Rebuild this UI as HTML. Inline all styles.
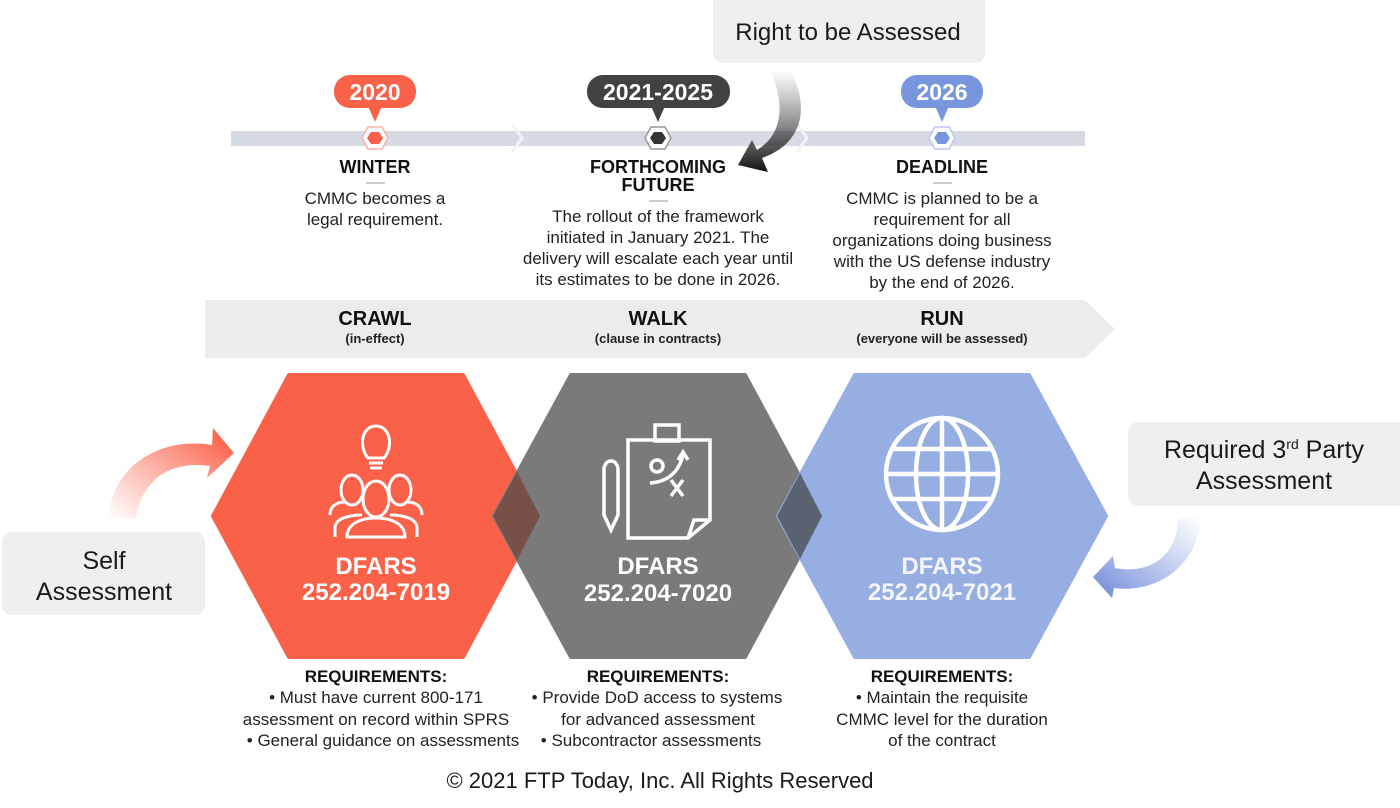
<!DOCTYPE html>
<html><head><meta charset="utf-8"><style>
html,body{margin:0;padding:0;background:#fff;}
svg{display:block;font-family:"Liberation Sans",sans-serif;}
.b{font-weight:bold;fill:#111;}
.t{fill:#222;font-size:17px;}
</style></head><body>
<svg width="1400" height="808" viewBox="0 0 1400 808" xmlns="http://www.w3.org/2000/svg">
<defs>
<linearGradient id="gr" x1="0" y1="1" x2="1" y2="0"><stop offset="0" stop-color="#fa6149" stop-opacity="0"/><stop offset="1" stop-color="#fa5238"/></linearGradient>
<linearGradient id="gb" x1="1" y1="0" x2="0" y2="1"><stop offset="0" stop-color="#7f98dd" stop-opacity="0"/><stop offset="1" stop-color="#6d87d8"/></linearGradient>
<linearGradient id="gk" x1="0" y1="0" x2="0" y2="1"><stop offset="0" stop-color="#444" stop-opacity="0"/><stop offset="1" stop-color="#111"/></linearGradient>
</defs>

<rect x="713" y="-10" width="272" height="73" rx="10" fill="#eef0f0"/>
<text x="848" y="40" text-anchor="middle" font-size="24" fill="#1a1a1a">Right to be Assessed</text>

<rect x="231" y="131" width="854" height="15" fill="#d6dbe3"/>
<path d="M512 124 L522 138 L512 152" fill="none" stroke="#f2f3f6" stroke-width="3"/>
<path d="M797 124 L807 138 L797 152" fill="none" stroke="#f2f3f6" stroke-width="3"/>

<path d="M790 70 C812 110 800 145 762 158 L768 172 L738 165 L752 140 L757 150 C782 135 786 105 770 70 Z" fill="url(#gk)"/>

<rect x="334" y="75" width="82" height="33" rx="16" fill="#fa6149"/>
<path d="M368 106 L375 122 L382 106 Z" fill="#fa6149"/>
<text x="375" y="100" text-anchor="middle" font-size="23" class="b" style="fill:#fff">2020</text>
<rect x="587" y="75" width="143" height="33" rx="16" fill="#424242"/>
<path d="M651 106 L658 122 L665 106 Z" fill="#424242"/>
<text x="658" y="100" text-anchor="middle" font-size="23" class="b" style="fill:#fff">2021-2025</text>
<rect x="901" y="75" width="82" height="33" rx="16" fill="#7896de"/>
<path d="M935 106 L942 122 L949 106 Z" fill="#7896de"/>
<text x="942" y="100" text-anchor="middle" font-size="23" class="b" style="fill:#fff">2026</text>

<polygon points="368,127 382,127 388,138 382,149 368,149 362,138" fill="#fff" stroke="#f7b2a6" stroke-width="1.5"/>
<polygon points="371,132 379,132 383,138 379,144 371,144 367,138" fill="#fa6149"/>
<polygon points="651,127 665,127 671,138 665,149 651,149 645,138" fill="#fff" stroke="#999" stroke-width="1.5"/>
<polygon points="654,132 662,132 666,138 662,144 654,144 650,138" fill="#333"/>
<polygon points="935,127 949,127 955,138 949,149 935,149 929,138" fill="#fff" stroke="#b9c7ee" stroke-width="1.5"/>
<polygon points="938,132 946,132 950,138 946,144 938,144 934,138" fill="#7896de"/>

<text x="375" y="173" text-anchor="middle" font-size="18" class="b">WINTER</text>
<rect x="366" y="182" width="19" height="2" fill="#ccc"/>
<text x="375" y="204" text-anchor="middle" class="t">CMMC becomes a</text>
<text x="375" y="225" text-anchor="middle" class="t">legal requirement.</text>

<text x="658" y="173" text-anchor="middle" font-size="18" class="b">FORTHCOMING</text>
<text x="658" y="191" text-anchor="middle" font-size="18" class="b">FUTURE</text>
<rect x="649" y="200" width="19" height="2" fill="#ccc"/>
<text x="658" y="222" text-anchor="middle" class="t">The rollout of the framework</text>
<text x="658" y="243" text-anchor="middle" class="t">initiated in January 2021. The</text>
<text x="658" y="264" text-anchor="middle" class="t">delivery will escalate each year until</text>
<text x="658" y="285" text-anchor="middle" class="t">its estimates to be done in 2026.</text>

<text x="942" y="173" text-anchor="middle" font-size="18" class="b">DEADLINE</text>
<rect x="933" y="182" width="19" height="2" fill="#ccc"/>
<text x="942" y="204" text-anchor="middle" class="t">CMMC is planned to be a</text>
<text x="942" y="225" text-anchor="middle" class="t">requirement for all</text>
<text x="942" y="246" text-anchor="middle" class="t">organizations doing business</text>
<text x="942" y="267" text-anchor="middle" class="t">with the US defense industry</text>
<text x="942" y="288" text-anchor="middle" class="t">by the end of 2026.</text>

<polygon points="205,300 1085,300 1115,329 1085,358 205,358" fill="#ececec"/>
<text x="375" y="325" text-anchor="middle" font-size="20" class="b">CRAWL</text>
<text x="375" y="343" text-anchor="middle" font-size="13" class="b" style="fill:#222">(in-effect)</text>
<text x="658" y="325" text-anchor="middle" font-size="20" class="b">WALK</text>
<text x="658" y="343" text-anchor="middle" font-size="13" class="b" style="fill:#222">(clause in contracts)</text>
<text x="942" y="325" text-anchor="middle" font-size="20" class="b">RUN</text>
<text x="942" y="343" text-anchor="middle" font-size="13" class="b" style="fill:#222">(everyone will be assessed)</text>

<polygon points="289,375 463,375 539,516 463,657 289,657 213,516" fill="#fa6149" stroke="#fa6149" stroke-width="4" stroke-linejoin="round"/>
<polygon points="571,375 745,375 821,516 745,657 571,657 494,516" fill="#7a7a7a" stroke="#7a7a7a" stroke-width="4" stroke-linejoin="round"/>
<polygon points="855,375 1029,375 1106,516 1029,657 855,657 778,516" fill="#97aee2" stroke="#97aee2" stroke-width="4" stroke-linejoin="round"/>
<polygon points="493,516 517,472 540,516 517,560" fill="#775048"/>
<polygon points="777,516 800,473 822,516 800,559" fill="#5b6272"/>

<g fill="none" stroke="#fff" stroke-width="3">
<path d="M368 458 C358 446 362 426 376 426 C390 426 394 446 384 458 Z"/>
<line x1="369" y1="463" x2="383" y2="463"/><line x1="370" y1="468" x2="382" y2="468"/>
<ellipse cx="352" cy="490" rx="11" ry="15"/><ellipse cx="400" cy="490" rx="11" ry="15"/>
<ellipse cx="376" cy="499" rx="13" ry="18"/>
<path d="M330 515 C330 505 338 502 345 502"/><path d="M422 515 C422 505 414 502 407 502"/>
<path d="M335 537 L335 528 C335 518 350 515 362 515 M390 515 C402 515 417 518 417 528 L417 537"/>
<path d="M347 537 C347 524 360 518 376 518 C392 518 405 524 405 537 Z"/>
</g>
<g fill="none" stroke="#fff" stroke-width="3.5">
<path d="M628 440 L710 440 L710 520 L688 538 L628 538 Z"/>
<path d="M688 538 L694 520 L710 520"/>
<rect x="655" y="425" width="24" height="16"/>
<circle cx="657" cy="466" r="6"/>
<path d="M650 483 C665 482 678 475 683 455"/><path d="M678 460 L683 452 L688 460"/>
<path d="M671 480 L683 496 M683 480 L671 496"/>
<path d="M604 470 C604 458 618 458 618 470 L618 515 L611 530 L604 515 Z"/>
</g>
<g fill="none" stroke="#fff" stroke-width="4.5">
<circle cx="942" cy="474" r="56"/>
<ellipse cx="942" cy="474" rx="26" ry="56"/>
<line x1="942" y1="418" x2="942" y2="530"/>
<line x1="886" y1="474" x2="998" y2="474"/>
<line x1="893" y1="449" x2="991" y2="449"/>
<line x1="893" y1="499" x2="991" y2="499"/>
</g>

<text x="376" y="574" text-anchor="middle" font-size="24" font-weight="bold" fill="#fff">DFARS</text>
<text x="376" y="600" text-anchor="middle" font-size="24" font-weight="bold" fill="#fff">252.204-7019</text>
<text x="658" y="574" text-anchor="middle" font-size="24" font-weight="bold" fill="#fff">DFARS</text>
<text x="658" y="601" text-anchor="middle" font-size="24" font-weight="bold" fill="#fff">252.204-7020</text>
<text x="942" y="574" text-anchor="middle" font-size="24" font-weight="bold" fill="#f3f5fb">DFARS</text>
<text x="942" y="600" text-anchor="middle" font-size="24" font-weight="bold" fill="#f3f5fb">252.204-7021</text>

<rect x="2" y="532" width="203" height="83" rx="10" fill="#eef0f0"/>
<text x="104" y="569" text-anchor="middle" font-size="25" fill="#1a1a1a">Self</text>
<text x="104" y="600" text-anchor="middle" font-size="25" fill="#1a1a1a">Assessment</text>
<rect x="1128" y="422" width="290" height="84" rx="10" fill="#eef0f0"/>
<text x="1264" y="458" text-anchor="middle" font-size="25" fill="#1a1a1a">Required 3<tspan font-size="14" dy="-9">rd</tspan><tspan dy="9"> Party</tspan></text>
<text x="1264" y="489" text-anchor="middle" font-size="25" fill="#1a1a1a">Assessment</text>

<path d="M108 518 C112 468 158 436 212 445 L213 428 L234 453 L207 478 L210 466 C170 460 142 480 136 518 Z" fill="url(#gr)"/>
<path d="M1178 518 C1178 555 1150 575 1115 568 L1113 556 L1093 577 L1112 598 L1114 588 C1162 594 1200 560 1200 518 Z" fill="url(#gb)"/>

<text x="376" y="682" text-anchor="middle" font-size="17" class="b">REQUIREMENTS:</text>
<text x="376" y="703" text-anchor="middle" class="t">•  Must have current 800-171</text>
<text x="376" y="725" text-anchor="middle" class="t">assessment on record within SPRS</text>
<text x="383" y="746" text-anchor="middle" class="t">•  General guidance on assessments</text>
<text x="658" y="682" text-anchor="middle" font-size="17" class="b">REQUIREMENTS:</text>
<text x="657" y="703" text-anchor="middle" class="t">•  Provide DoD access to systems</text>
<text x="658" y="725" text-anchor="middle" class="t">for advanced assessment</text>
<text x="651" y="746" text-anchor="middle" class="t">•  Subcontractor assessments</text>
<text x="942" y="682" text-anchor="middle" font-size="17" class="b">REQUIREMENTS:</text>
<text x="942" y="703" text-anchor="middle" class="t">•  Maintain the requisite</text>
<text x="942" y="725" text-anchor="middle" class="t">CMMC level for the duration</text>
<text x="942" y="746" text-anchor="middle" class="t">of the contract</text>

<text x="660" y="788" text-anchor="middle" font-size="22" fill="#1a1a1a">© 2021 FTP Today, Inc. All Rights Reserved</text>
</svg>
</body></html>
